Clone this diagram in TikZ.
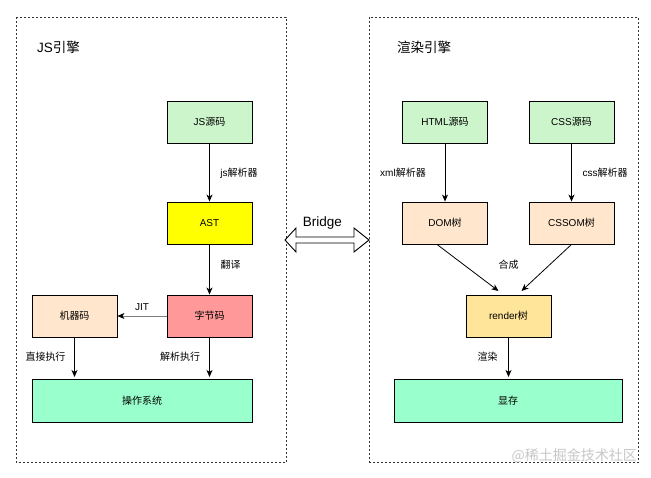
\documentclass[tikz,border=0pt]{standalone}
\usepackage{fontspec}
\setmainfont{Liberation Sans}
\newfontfamily\cjk{Noto Sans CJK SC}
\usetikzlibrary{arrows.meta,positioning}
\definecolor{cgreen}{HTML}{CCF5CC}
\definecolor{cyellow}{HTML}{FFFF00}
\definecolor{cred}{HTML}{FF9999}
\definecolor{corange}{HTML}{FFE6CC}
\definecolor{cteal}{HTML}{99FFCC}
\definecolor{cgold}{HTML}{FFE599}
\definecolor{frame}{HTML}{333333}
\tikzset{
  box/.style={draw=black, line width=0.9pt, minimum width=85pt, minimum height=42pt, inner sep=0pt, font=\fontsize{10}{12}\selectfont},
  wide/.style={box, minimum height=43pt},
  engine/.style={draw=frame, line width=0.8pt, dash pattern=on 2pt off 2pt},
  conn/.style={draw=black, line width=0.8pt, -{Stealth[length=7pt,width=6pt,inset=2pt]}},
  grayconn/.style={draw=gray, line width=0.6pt, -{Stealth[length=7pt,width=6pt,inset=2pt,color=black]}},
  elabel/.style={font=\fontsize{10}{12}\selectfont, inner sep=0pt},
  title/.style={font=\fontsize{13.5}{16}\selectfont, inner sep=0pt, anchor=west},
}
\begin{document}
\begin{tikzpicture}[x=1pt,y=-1pt]
\useasboundingbox (0,0) rectangle (651,478);
\fill[white] (0,0) rectangle (651,478);

% engine frames
\draw[engine] (16,17.5) rectangle (286,462.5);
\draw[engine] (369.5,17.5) rectangle (638,462.5);
\node[title] (t1) at (37,47.5) {JS{\cjk 引擎}};
\node[title] (t2) at (397,47.5) {\cjk 渲染引擎};

% JS engine
\node[box, fill=cgreen] (src) at (209.5,122) {JS{\cjk 源码}};
\node[box, fill=cyellow] (ast) at (209.5,223) {AST};
\node[box, fill=cred] (bc) at (209.5,316) {\cjk 字节码};
\node[box, fill=corange] (mc) at (74.5,316) {\cjk 机器码};
\node[wide, fill=cteal, minimum width=220pt] (os) at (142,400.5) {\cjk 操作系统};

\draw[conn] (src.south) -- (ast.north);
\node[elabel] (l1) at (239,173) {js{\cjk 解析器}};
\draw[conn] (ast.south) -- (bc.north);
\node[elabel] (l2) at (230.5,265) {\cjk 翻译};
\draw[grayconn] (bc.west) -- (mc.east);
\node[elabel] (l3) at (142,307) {JIT};
\coordinate (osm) at (74.5,377);
\coordinate (osb) at (209.5,377);
\draw[conn] (mc.south) -- (osm);
\draw[conn] (bc.south) -- (osb);
\node[elabel] (l4) at (45.5,357) {\cjk 直接执行};
\node[elabel] (l5) at (180,357) {\cjk 解析执行};

% Bridge
\draw[line width=0.9pt, fill=white] (285,240) -- (296,228) -- (296,237) -- (354,237) -- (354,228) -- (369,240) -- (354,252) -- (354,243) -- (296,243) -- (296,252) -- cycle;
\node[font=\fontsize{13.5}{16}\selectfont, inner sep=0pt] (br) at (322.5,223) {Bridge};

% Render engine
\node[box, fill=cgreen] (html) at (445,122) {HTML{\cjk 源码}};
\node[box, fill=cgreen] (css) at (571.5,122) {CSS{\cjk 源码}};
\node[box, fill=corange] (dom) at (445,223) {DOM{\cjk 树}};
\node[box, fill=corange] (cssom) at (571.5,223) {CSSOM{\cjk 树}};
\node[box, fill=cgold] (rt) at (508.5,316) {render{\cjk 树}};
\node[wide, fill=cteal, minimum width=228pt] (vm) at (508,400.5) {\cjk 显存};

\draw[conn] (html.south) -- (dom.north);
\node[elabel] (l6) at (403,173) {xml{\cjk 解析器}};
\draw[conn] (css.south) -- (cssom.north);
\node[elabel] (l7) at (605,173) {css{\cjk 解析器}};
\coordinate (m1) at (498.5,291);
\coordinate (m2) at (521.5,291);
\draw[conn] ([xshift=-8pt]dom.south) -- (m1);
\draw[conn] (cssom.south) -- (m2);
\node[elabel] (l8) at (508.5,265) {\cjk 合成};
\coordinate (vmt) at (508.5,377);
\draw[conn] (rt.south) -- (vmt);
\node[elabel] (l9) at (487.5,357) {\cjk 渲染};

% watermark
\node[font=\fontsize{14}{16}\selectfont\cjk, text=black!22, inner sep=0pt, anchor=east] (wm) at (637,456) {@稀土掘金技术社区};
\end{tikzpicture}
\end{document}
